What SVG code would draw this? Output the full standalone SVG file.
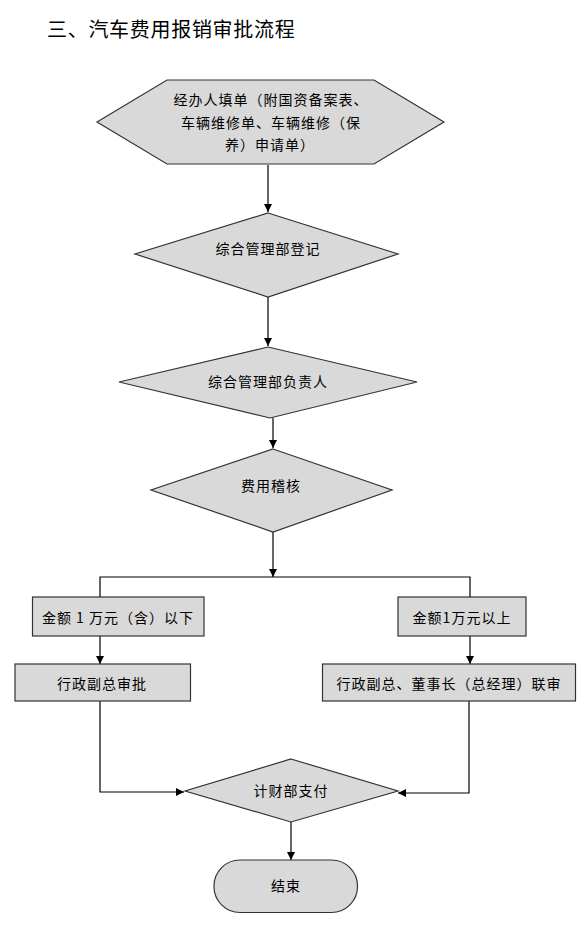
<svg xmlns="http://www.w3.org/2000/svg" width="586" height="934" viewBox="0 0 586 934">
<style>
.shape{fill:#d9d9d9;stroke:#333;stroke-width:1.2}
.lbl{font-family:"Noto Sans CJK SC","Liberation Sans",sans-serif;font-size:14px;letter-spacing:1px;fill:#000;text-anchor:middle;dominant-baseline:central}
.title{font-family:"Noto Sans CJK SC","Liberation Sans",sans-serif;font-size:20px;letter-spacing:0.7px;fill:#000}
.conn{fill:none;stroke:#000;stroke-width:1.2}
</style>
<defs>
<marker id="arr" viewBox="0 0 10 10" refX="10" refY="5" markerWidth="8" markerHeight="8" markerUnits="userSpaceOnUse" orient="auto">
<path d="M0,0 L10,5 L0,10 Z" fill="#000"/>
</marker>
</defs>
<rect width="586" height="934" fill="#fff"/>
<text class="title" x="47" y="37">三、汽车费用报销审批流程</text>
<g id="connectors">
<path class="conn" d="M268,165 L268,212" marker-end="url(#arr)"/>
<path class="conn" d="M268,297 L268,346" marker-end="url(#arr)"/>
<path class="conn" d="M273,418 L273,448" marker-end="url(#arr)"/>
<path class="conn" d="M273,532 L273,577" marker-end="url(#arr)"/>
<path class="conn" d="M100,597 L100,577 L470,577 L470,597"/>
<path class="conn" d="M100,636 L100,664" marker-end="url(#arr)"/>
<path class="conn" d="M470,636 L470,664" marker-end="url(#arr)"/>
<path class="conn" d="M100,701 L100,792 L184,792" marker-end="url(#arr)"/>
<path class="conn" d="M469,701 L469,793 L398,793" marker-end="url(#arr)"/>
<path class="conn" d="M291,822 L291,860" marker-end="url(#arr)"/>
</g>
<g id="n1">
<polygon class="shape" points="97,122 167,80 374,80 444,122 374,164 167,164"/>
<text class="lbl" x="271" y="99">经办人填单（附国资备案表、</text>
<text class="lbl" x="271" y="121.5">车辆维修单、车辆维修（保</text>
<text class="lbl" x="270" y="144">养）申请单）</text>
</g>
<g id="n2">
<polygon class="shape" points="268,213 398,254 268,297 135,254"/>
<text class="lbl" x="268" y="248">综合管理部登记</text>
</g>
<g id="n3">
<polygon class="shape" points="268,347 417,382 270,418 119,382"/>
<text class="lbl" x="268" y="381">综合管理部负责人</text>
</g>
<g id="n4">
<polygon class="shape" points="273,449 392,490 273,532 151,490"/>
<text class="lbl" x="271" y="485">费用稽核</text>
</g>
<g id="n5">
<rect class="shape" x="32.5" y="597" width="171.5" height="39"/>
<text class="lbl" x="118" y="617">金额 1 万元（含）以下</text>
</g>
<g id="n6">
<rect class="shape" x="398" y="597" width="128" height="39"/>
<text class="lbl" x="462" y="617">金额1万元以上</text>
</g>
<g id="n7">
<rect class="shape" x="15" y="664" width="175.5" height="37"/>
<text class="lbl" x="102" y="683">行政副总审批</text>
</g>
<g id="n8">
<rect class="shape" x="322.5" y="664" width="253" height="37"/>
<text class="lbl" x="449" y="683">行政副总、董事长（总经理）联审</text>
</g>
<g id="n9">
<polygon class="shape" points="291,759 398,791 291,822 185,791"/>
<text class="lbl" x="291" y="790">计财部支付</text>
</g>
<g id="n10">
<rect class="shape" x="214" y="860" width="143.5" height="52.5" rx="26" ry="26"/>
<text class="lbl" x="286" y="885">结束</text>
</g>
</svg>
